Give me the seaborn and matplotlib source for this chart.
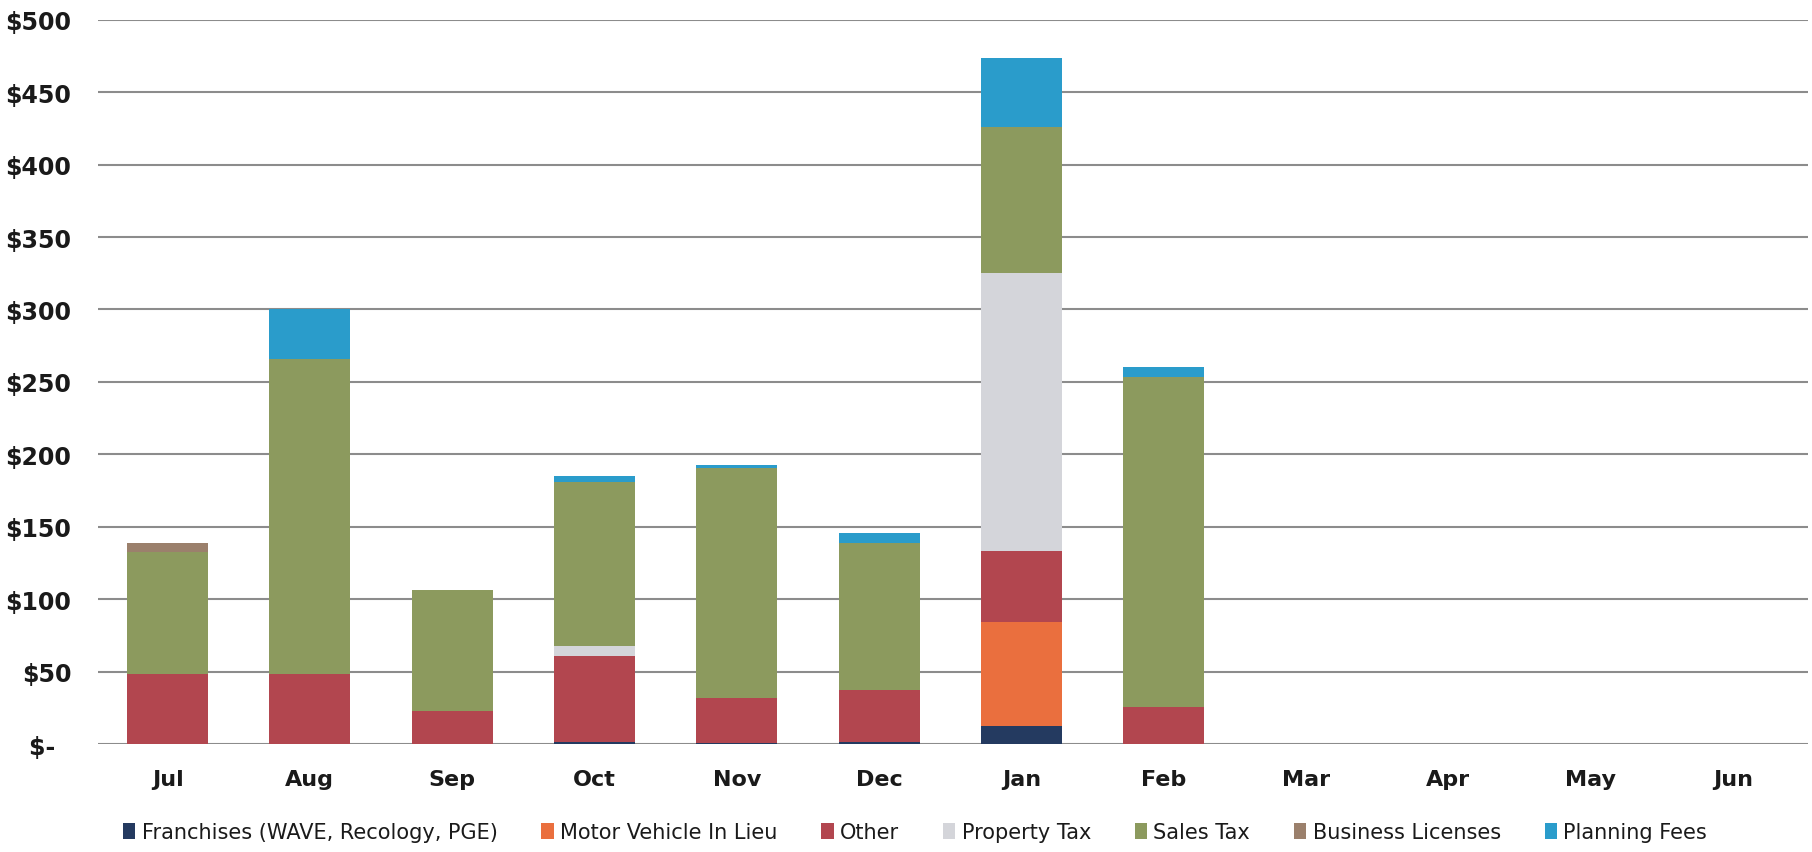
import numpy as np
import pandas as pd
import matplotlib
matplotlib.use("Agg")
import matplotlib.pyplot as plt
from matplotlib.patches import Patch
import seaborn as sns

months = ["Jul", "Aug", "Sep", "Oct", "Nov", "Dec", "Jan", "Feb", "Mar", "Apr", "May", "Jun"]

franchises = [0, 0, 0, 1.5, 1, 1.5, 12.5, 0, 0, 0, 0, 0]
motor_vehicle = [0, 0, 0, 0, 0, 0, 72, 0, 0, 0, 0, 0]
other = [48.5, 48.5, 23, 59.5, 31, 36, 49, 25.5, 0, 0, 0, 0]
property_tax = [0, 0, 0, 6.5, 0, 0, 192, 0, 0, 0, 0, 0]
sales_tax = [84, 217, 83, 113.5, 158.5, 101.5, 100.5, 228, 0, 0, 0, 0]
business_licenses = [6, 0, 0, 0, 0, 0, 0, 0, 0, 0, 0, 0]
planning_fees = [0, 34.5, 0, 4, 2, 7, 47.5, 7, 0, 0, 0, 0]

series_names = ["Franchises (WAVE, Recology, PGE)", "Motor Vehicle In Lieu", "Other",
                "Property Tax", "Sales Tax", "Business Licenses", "Planning Fees"]
series_values = [franchises, motor_vehicle, other, property_tax, sales_tax,
                 business_licenses, planning_fees]
series_colors = ["#243a60", "#ea6f3e", "#b2464f", "#d4d5da", "#8c9a5e", "#9b806c", "#2a9ccb"]

yticks = [0, 50, 100, 150, 200, 250, 300, 350, 400, 450, 500]
ytick_labels = ["$-  ", "$50", "$100", "$150", "$200", "$250", "$300", "$350", "$400",
                "$450", "$500"]

sns.set_theme(style="white")
plt.rcParams['font.family'] = ['DejaVu Sans']

fig = plt.figure(figsize=(18.12, 8.53), dpi=100)
ax = fig.add_axes([0.054, 0.1266, 0.944, 0.849])

ax.set_axisbelow(True)
for yv in yticks:
    ax.axhline(yv, color="#8c8c8c", linewidth=1.5, zorder=0)

bottom = np.zeros(len(months))
for name, vals, col in zip(series_names, series_values, series_colors):
    df = pd.DataFrame({"month": months, "value": vals})
    sns.barplot(data=df, x="month", y="value", order=months, color=col,
                width=0.57, bottom=bottom, errorbar=None, ax=ax,
                saturation=1, linewidth=0, zorder=2)
    bottom = bottom + np.array(vals, dtype=float)

ax.set_xlim(-0.49, 11.53)
ax.set_ylim(0, 500)
ax.set_yticks(yticks)
ax.set_yticklabels(ytick_labels, fontsize=17, fontweight="bold", color="#1a1a1a")
ax.tick_params(axis="y", pad=19, length=0)
ax.tick_params(axis="x", pad=18, length=0)
for lab in ax.get_xticklabels():
    lab.set_fontsize(16)
    lab.set_fontweight("bold")
    lab.set_color("#1a1a1a")
ax.set_xlabel("")
ax.set_ylabel("")
for sp in ax.spines.values():
    sp.set_visible(False)
ax.grid(False)

handles = [Patch(facecolor=c, edgecolor="none") for c in series_colors]
leg = fig.legend(handles, series_names, loc="center", bbox_to_anchor=(0.505, 0.023),
                 ncol=7, frameon=False, handlelength=0.6, handleheight=0.8,
                 handletextpad=0.3, columnspacing=2.1,
                 prop={"family": ["DejaVu Sans"], "size": 15, "weight": "normal"})
for t in leg.get_texts():
    t.set_color("#1a1a1a")

fig.savefig("out.png", dpi=100)
